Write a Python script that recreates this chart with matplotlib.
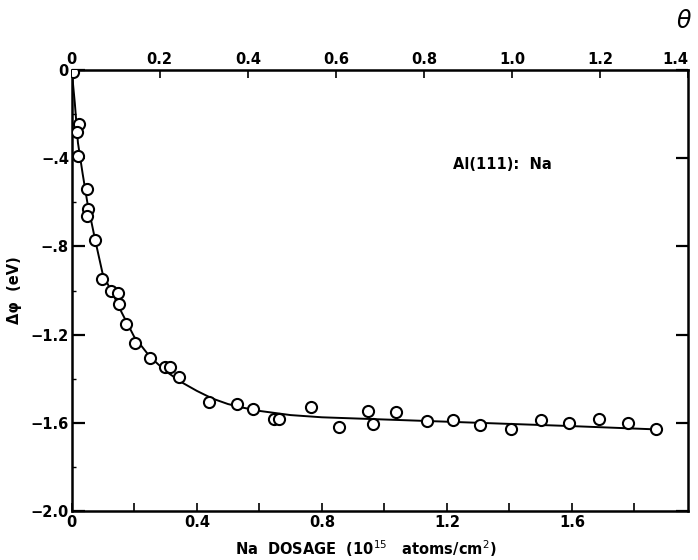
import matplotlib
matplotlib.use("Agg")
import matplotlib.pyplot as plt
from matplotlib.ticker import FixedLocator, MultipleLocator

plt.rcParams['font.family'] = ['DejaVu Sans']

# measured points: Na dosage (1e15 atoms/cm^2) and work-function change (eV)
dosage = [0.005, 0.024, 0.018, 0.021, 0.05, 0.052, 0.048, 0.076, 0.098, 0.125,
          0.147, 0.151, 0.175, 0.203, 0.252, 0.30, 0.315, 0.344, 0.44, 0.53,
          0.579, 0.646, 0.664, 0.765, 0.854, 0.949, 0.963, 1.037, 1.135, 1.221,
          1.307, 1.405, 1.501, 1.591, 1.685, 1.78, 1.869]
dphi = [-0.01, -0.245, -0.28, -0.39, -0.54, -0.63, -0.66, -0.77, -0.948, -1.002,
        -1.013, -1.061, -1.153, -1.24, -1.308, -1.345, -1.347, -1.394, -1.507, -1.515,
        -1.539, -1.583, -1.583, -1.527, -1.62, -1.545, -1.607, -1.549, -1.591, -1.587,
        -1.611, -1.63, -1.587, -1.602, -1.583, -1.602, -1.627]

# smooth guide curve
curve_d = [0, 0.01, 0.02, 0.035, 0.05, 0.075, 0.1, 0.13, 0.16, 0.2, 0.25, 0.3,
           0.35, 0.4, 0.45, 0.5, 0.55, 0.6, 0.7, 0.8, 1.0, 1.2, 1.4, 1.6, 1.87]
curve_v = [0, -0.15, -0.33, -0.47, -0.6, -0.77, -0.93, -1.01, -1.10, -1.21, -1.30,
           -1.365, -1.415, -1.455, -1.49, -1.515, -1.532, -1.546, -1.565, -1.575,
           -1.585, -1.595, -1.605, -1.615, -1.63]

x_ticks = [0, 0.4, 0.8, 1.2, 1.6]
x_labels = ["0", "0.4", "0.8", "1.2", "1.6"]
x_minor = [0.2, 0.6, 1.0, 1.4, 1.8]
y_ticks = [0, -0.4, -0.8, -1.2, -1.6, -2.0]
y_labels = ["0", "\u2212.4", "\u2212.8", "\u22121.2", "\u22121.6", "\u22122.0"]
theta_ticks = [0, 0.2, 0.4, 0.6, 0.8, 1.0, 1.2, 1.4]
theta_labels = ["0", "0.2", "0.4", "0.6", "0.8", "1.0", "1.2", "1.4"]
theta_per_dosage = 1.0 / 1.408

FS = 10.5

fig = plt.figure(figsize=(6.98, 5.60), dpi=100)
ax = fig.add_axes([0.1027, 0.0875, 0.8830, 0.7875])

ax.plot(curve_d, curve_v, color='black', lw=1.4, zorder=2)
ax.plot(dosage, dphi, 'o', mfc='white', mec='black', ms=8, mew=1.5, zorder=3)

xmax = 1.4 / theta_per_dosage
ax.set_xlim(0, xmax)
ax.set_ylim(-2.0, 0)

for s in ax.spines.values():
    s.set_linewidth(1.8)

ax.xaxis.set_major_locator(FixedLocator(x_ticks))
ax.xaxis.set_minor_locator(FixedLocator(x_minor))
ax.set_xticklabels(x_labels)
ax.yaxis.set_major_locator(FixedLocator(y_ticks))
ax.set_yticklabels(y_labels)
ax.yaxis.set_minor_locator(MultipleLocator(0.2))

ax.tick_params(axis='x', which='both', direction='in', length=6, width=1.2,
               labelsize=FS, pad=3, top=False)
ax.tick_params(axis='y', which='major', direction='in', length=9, width=1.6,
               labelsize=FS, right=True, pad=2)
ax.tick_params(axis='y', which='minor', direction='in', length=3, width=1.0, right=False)
for lab in ax.get_xticklabels() + ax.get_yticklabels():
    lab.set_fontweight('bold')

secx = ax.secondary_xaxis('top', functions=(lambda d: d * theta_per_dosage,
                                            lambda t: t / theta_per_dosage))
secx.xaxis.set_major_locator(FixedLocator(theta_ticks))
secx.set_xticklabels(theta_labels)
secx.tick_params(direction='in', length=6, width=1.2, labelsize=FS, pad=2)
tlabs = secx.get_xticklabels()
for lab in tlabs:
    lab.set_fontweight('bold')
tlabs[-1].set_horizontalalignment('right')

fig.text(0.524, 0.021, "Na  DOSAGE  (10$^{15}$   atoms/cm$^{2}$)", fontsize=FS,
         fontweight='bold', ha='center', va='center')
ax.set_ylabel("\u0394\u03c6  (eV)", fontsize=FS, fontweight='bold', labelpad=6)

ax.text(0.698, 0.785, "Al(111):  Na", transform=ax.transAxes, fontsize=FS,
        fontweight='bold', ha='center', va='center')
fig.text(0.980, 0.962, "\u03b8", fontsize=17, style='italic', ha='center', va='center')

fig.savefig("out.png", dpi=100)
